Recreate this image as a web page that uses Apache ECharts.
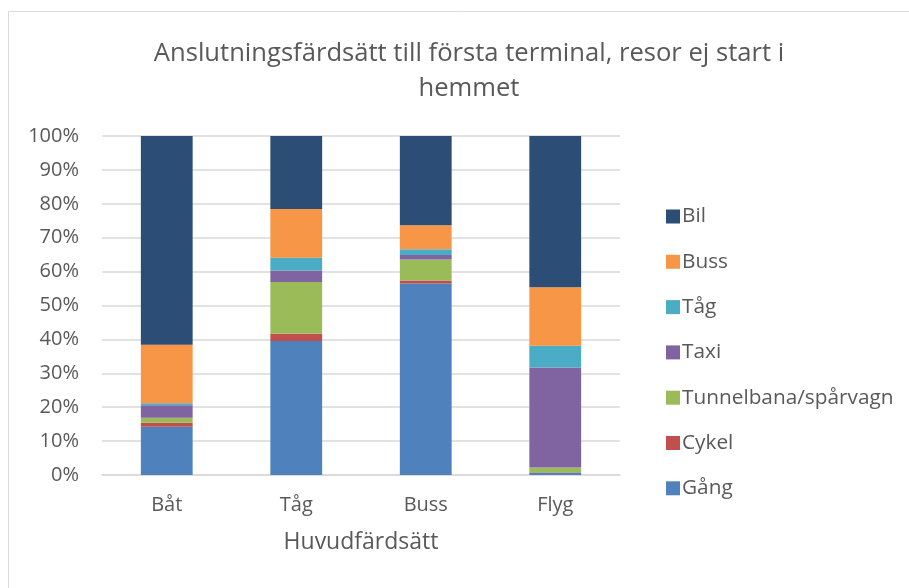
<!DOCTYPE html>
<html>
<head>
<meta charset="utf-8">
<script src="https://cdn.jsdelivr.net/npm/echarts@6/dist/echarts.min.js"></script>
<style>
  html, body { margin: 0; padding: 0; background: #fff; }
  #chart { width: 909px; height: 588px; }
</style>
</head>
<body>
<div id="chart"></div>
<script>
// kategorier (huvudfärdsätt)
const categories = ['Båt', 'Tåg', 'Buss', 'Flyg'];
// andelar i procent
const gang = [14.2, 39.5, 56.5, 0.7];
const cykel = [1.2, 2.2, 0.9, 0.1];
const tunnelbana = [1.5, 15.2, 6.2, 1.4];
const taxi = [3.7, 3.4, 1.3, 29.5];
const tag = [0.6, 3.8, 1.7, 6.4];
const buss = [17.2, 14.4, 7.1, 17.3];
const bil = [61.6, 21.5, 26.3, 44.6];

const fontFamily = '"Open Sans", sans-serif';
const textColor = '#595959';

const seriesDefs = [
  { name: 'Gång', data: gang, color: '#4f81bd' },
  { name: 'Cykel', data: cykel, color: '#c0504d' },
  { name: 'Tunnelbana/spårvagn', data: tunnelbana, color: '#9bbb59' },
  { name: 'Taxi', data: taxi, color: '#8064a2' },
  { name: 'Tåg', data: tag, color: '#4bacc6' },
  { name: 'Buss', data: buss, color: '#f79646' },
  { name: 'Bil', data: bil, color: '#2c4d75' },
];

const myChart = echarts.init(document.getElementById('chart'));
const option = {
  animation: false,
  textStyle: { fontFamily: fontFamily },
  graphic: [
    {
      type: 'rect',
      shape: { x: 8.5, y: 11.5, width: 1000, height: 1000 },
      style: { fill: 'none', stroke: '#d9d9d9', lineWidth: 1 },
      silent: true,
    },
  ],
  title: {
    text: 'Anslutningsfärdsätt till första terminal, resor ej start i\nhemmet',
    left: 464,
    textAlign: 'center',
    top: 31,
    textStyle: {
      fontFamily: fontFamily,
      fontSize: 25.6,
      fontWeight: 'normal',
      color: textColor,
      lineHeight: 35,
    },
  },
  legend: {
    orient: 'vertical',
    left: 661,
    top: 201,
    itemWidth: 14,
    itemHeight: 14,
    itemGap: 24.3,
    icon: 'rect',
    data: seriesDefs.map((s) => s.name).reverse(),
    textStyle: {
      fontFamily: fontFamily,
      fontSize: 20.8,
      color: textColor,
      lineHeight: 20,
      padding: [0, 0, 0, -3],
    },
  },
  grid: {
    left: 102,
    right: 289,
    top: 136,
    bottom: 113,
  },
  xAxis: {
    type: 'category',
    data: categories,
    name: 'Huvudfärdsätt',
    nameLocation: 'middle',
    nameGap: 56,
    nameTextStyle: {
      fontFamily: fontFamily,
      fontSize: 23,
      color: textColor,
    },
    axisLine: { show: true, lineStyle: { color: '#d9d9d9', width: 1.5 } },
    axisTick: { show: false },
    axisLabel: {
      margin: 20,
      fontFamily: fontFamily,
      fontSize: 20,
      color: textColor,
    },
  },
  yAxis: {
    type: 'value',
    min: 0,
    max: 100,
    interval: 10,
    axisLine: { show: false },
    axisTick: { show: false },
    axisLabel: {
      margin: 23,
      fontFamily: fontFamily,
      fontSize: 20,
      color: textColor,
      formatter: '{value}%',
    },
    splitLine: {
      lineStyle: { color: '#d9d9d9', width: 1.5 },
    },
  },
  series: seriesDefs.map((s) => ({
    name: s.name,
    type: 'bar',
    stack: 'total',
    data: s.data,
    barCategoryGap: '60%',
    itemStyle: { color: s.color },
  })),
};
myChart.setOption(option);
</script>
</body>
</html>
